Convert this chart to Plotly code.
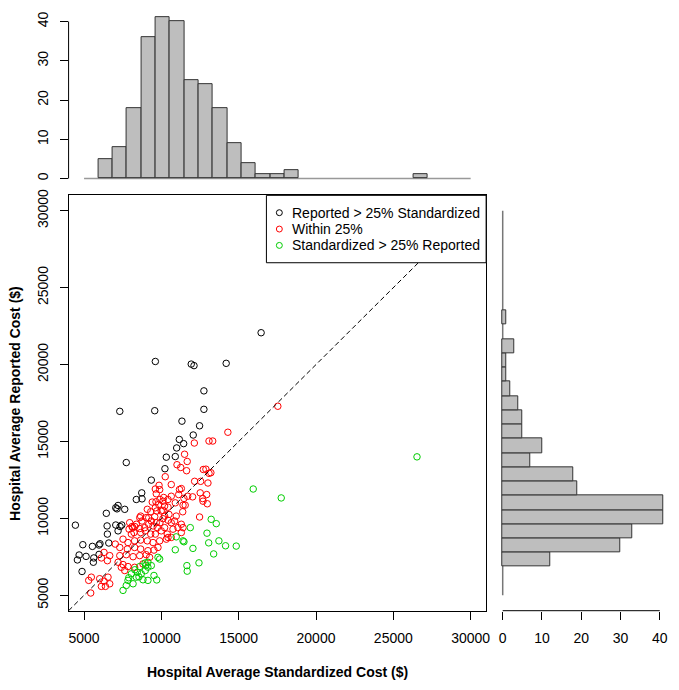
import plotly.graph_objects as go

W, H = 679, 690

# ---------------- data ----------------
black_x = [16450, 9610, 11930, 12110, 14190, 12750, 9570, 12750, 11330, 12470,
           7310, 12060, 11160, 11440, 10990, 7730, 10320, 10900, 10230, 9350,
           8730, 8750, 8380, 7200, 7050, 7630, 7130, 6440, 6490, 7050,
           7440, 7330, 4440, 6510, 6600, 4920, 5540, 5970, 6030, 4680,
           4570, 5130, 5630, 5600, 5970, 4870, 7200]
black_y = [22070, 20200, 20030, 19930, 20080, 18290, 17000, 17090, 16320, 16020,
           16960, 15420, 15130, 14860, 14580, 13630, 13980, 14020, 13230, 12490,
           11660, 11270, 11230, 10840, 10690, 10590, 10620, 10330, 9510, 9570,
           9570, 9470, 9560, 8980, 8400, 8290, 8180, 8270, 8350, 7620,
           7300, 7530, 7430, 7150, 7660, 6550, 9190]

red_x = [17530, 14300, 12130, 13080, 13320, 11500, 11670, 11010, 11250, 11630,
         10250, 9850, 12710, 12880, 13080, 13200, 12150, 12540, 13010,
         11170, 11290, 12510, 10640, 10430, 10900, 11460, 11400, 11540, 12690,
         12970, 12470, 10960, 10860, 10640, 11290, 11400, 11070, 10750, 11290, 10430,
         9610, 9890, 11120, 10150, 9670, 9910, 9650, 9410, 9090, 9700,
         10100, 10430, 11380, 10490, 10100, 9910, 12930, 12670, 11700, 12020,
         8100, 7910, 8150, 8280, 8600, 8920, 8660, 9180, 9350, 9570,
         9670, 8600, 8750,
         10640, 10100, 9830, 10210, 9990, 9610, 9310, 8660, 9020, 10210,
         10430, 7950, 8380, 9180, 9460, 9740, 8230, 8060, 8960, 9310,
         9610, 9990, 10210, 10380, 10640, 7520, 7840, 8270, 8660, 9090,
         9460, 9890, 10320, 7020, 7310, 7800, 8270, 8660, 9130, 9520,
         9780, 6290, 6660, 6120, 6510, 7310, 7730, 8170, 8600, 9020,
         9240, 7200, 7520, 7840, 8270, 8810, 5470, 5300, 6010, 6290,
         6550, 6660, 6120, 6380, 7410, 7630, 5430]
red_y = [17290, 15600, 14900, 15030, 15030, 14170, 13700, 13490, 13310, 13100,
         12710, 12150, 13180, 13200, 12930, 12970, 12410, 12410, 12300,
         11880, 11940, 11660, 11440, 11230, 11010, 11300, 10860, 10860, 11120,
         10950, 10090, 10150, 9830, 9720, 9620, 9400, 9400, 9300, 9080, 8760,
         11910, 11870, 11550, 11360, 11600, 11230, 11080, 11060, 10590, 10480,
         10520, 10730, 10430, 10260, 9980, 9720, 11550, 11290, 11440, 11400,
         9470, 9300, 9400, 9470, 9340, 9400, 9080, 10050, 9830, 10110,
         9720, 10050, 9830,
         12200, 11120, 10910, 10800, 10480, 10690, 10430, 10150, 10050, 10150,
         9880, 9720, 9620, 9620, 9510, 9400, 9080, 8980, 9190, 8980,
         8980, 9190, 9400, 8980, 8760, 8650, 8430, 8540, 8590, 8540,
         8430, 8540, 8650, 8330, 8110, 8010, 8110, 8010, 7900, 7940,
         8110, 7790, 7580, 7430, 7250, 7580, 7640, 7510, 7580, 7640,
         7470, 7150, 7000, 6870, 6820, 7040, 6180, 5970, 6080, 5920,
         6180, 5750, 5580, 5580, 6820, 6610, 5150]

green_x = [26530, 15940, 17750, 14840, 14150, 13220, 13550, 11870, 12950, 10960,
           11400, 11460, 13720, 13060, 10900, 12040, 13380, 12430, 11650, 11670,
           9780, 9890, 8950, 9130, 8600, 8280, 8440, 8060, 8700, 8960,
           9520, 9130, 8810, 7840, 8170, 7730, 7520, 7890, 8380, 9130,
           9350, 9000, 8550, 9700]
green_y = [14000, 11910, 11330, 8200, 8220, 9940, 9660, 9400, 9040, 8800,
           8540, 8480, 8540, 8410, 7960, 8050, 7690, 7110, 6930, 6570,
           7470, 7360, 7100, 7150, 6870, 6660, 6500, 6400, 6400, 6610,
           6290, 5970, 6010, 5970, 5750, 5640, 5320, 6140, 6180, 6830,
           6930, 6950, 6200, 6000]

# histogram of standardized cost (bins of 1000 starting at 4000)
top_bin_start = 4000
top_counts = [5, 8, 18, 36, 41, 40, 25, 24, 18, 9, 4, 1, 1, 2,
              0, 0, 0, 0, 0, 0, 0, 0, 1]
# histogram of reported cost (bins of 1000 starting at 5000)
right_bin_start = 5000
right_counts = [12, 30, 33, 41, 41, 19, 18, 7, 10, 5, 5, 4, 2, 1, 1, 3, 0, 1]
bin_width = 1000

cost_ticks = [5000, 10000, 15000, 20000, 25000, 30000]
cost_tick_labels = ["5000", "10000", "15000", "20000", "25000", "30000"]
count_ticks = [0, 10, 20, 30, 40]
count_tick_labels = ["0", "10", "20", "30", "40"]
series_names = ["Reported > 25% Standardized", "Within 25%", "Standardized > 25% Reported"]
series_colors = ["#000000", "#FF0000", "#00CD00"]
x_title = "Hospital Average Standardized Cost ($)"
y_title = "Hospital Average Reported Cost ($)"

# ---------------- layout helpers (pixel -> paper) ----------------
def PX(p):
    return p / W

def PY(p):
    return 1 - p / H

FONT = "Liberation Sans, Arial, sans-serif"
main_l, main_r, main_t, main_b = 69, 489, 191, 610

fig = go.Figure()

for xs, ys, name, col in zip([black_x, red_x, green_x], [black_y, red_y, green_y],
                             series_names, series_colors):
    fig.add_trace(go.Scatter(
        x=xs, y=ys, mode="markers", name=name, showlegend=False,
        marker=dict(symbol="circle-open", size=6.5, color=col, line=dict(width=1, color=col)),
        xaxis="x", yaxis="y"))

top_centers = [top_bin_start + bin_width * (i + 0.5) for i in range(len(top_counts))]
fig.add_trace(go.Bar(
    x=top_centers, y=[c if c > 0 else None for c in top_counts], width=bin_width,
    marker=dict(color="#BEBEBE", line=dict(color="#333333", width=1)),
    xaxis="x2", yaxis="y2", showlegend=False))

right_centers = [right_bin_start + bin_width * (i + 0.5) for i in range(len(right_counts))]
fig.add_trace(go.Bar(
    y=right_centers, x=[c if c > 0 else None for c in right_counts], width=bin_width,
    orientation="h",
    marker=dict(color="#BEBEBE", line=dict(color="#333333", width=1)),
    xaxis="x3", yaxis="y3", showlegend=False))

tickfont = dict(family=FONT, size=14, color="black")
main_dom_x = [PX(main_l), PX(main_r)]
main_dom_y = [PY(main_b), PY(main_t)]

shapes = []
# dashed identity line
shapes.append(dict(type="line", xref="x", yref="y", x0=4000, y0=4000, x1=31000, y1=31000,
                   line=dict(color="black", width=1, dash="5px,3px"), layer="above"))
# grey baselines of histograms
shapes.append(dict(type="line", xref="x2", yref="y2", x0=3000, x1=30000, y0=0, y1=0,
                   line=dict(color="#999999", width=1.5), layer="below"))
shapes.append(dict(type="line", xref="x3", yref="y3", x0=0, x1=0, y0=3000, y1=30000,
                   line=dict(color="#777777", width=1.5), layer="below"))
# axis segments of the histograms
shapes.append(dict(type="line", xref="paper", yref="y2", x0=PX(main_l), x1=PX(main_l),
                   y0=count_ticks[0], y1=count_ticks[-1], line=dict(color="black", width=1)))
shapes.append(dict(type="line", xref="x3", yref="paper", x0=count_ticks[0], x1=count_ticks[-1],
                   y0=PY(main_b), y1=PY(main_b), line=dict(color="black", width=1)))
# legend box
leg_l, leg_r, leg_t, leg_b = 268, 489, 191, 259
shapes.append(dict(type="rect", xref="paper", yref="paper", x0=PX(leg_l), x1=PX(leg_r),
                   y0=PY(leg_b), y1=PY(leg_t), fillcolor="white",
                   line=dict(color="black", width=1), layer="above"))
annotations = []
row_y = [208.5, 225, 241.5]
for name, col, ry in zip(series_names, series_colors, row_y):
    r = 3.0
    shapes.append(dict(type="circle", xref="paper", yref="paper",
                       x0=PX(281 - r), x1=PX(281 + r), y0=PY(ry + r), y1=PY(ry - r),
                       line=dict(color=col, width=1), layer="above"))
    annotations.append(dict(text=name, xref="paper", yref="paper", x=PX(292), y=PY(ry),
                            xanchor="left", yanchor="middle", showarrow=False,
                            font=dict(family=FONT, size=14, color="black")))

annotations.append(dict(text="<b>" + x_title + "</b>", xref="paper", yref="paper",
                        x=PX((main_l + main_r) / 2), y=PY(672), xanchor="center", yanchor="middle",
                        showarrow=False, font=dict(family=FONT, size=14, color="black")))
annotations.append(dict(text="<b>" + y_title + "</b>", xref="paper", yref="paper",
                        x=PX(15), y=PY((main_t + main_b) / 2), xanchor="center", yanchor="middle",
                        textangle=-90, showarrow=False,
                        font=dict(family=FONT, size=14, color="black")))

fig.update_layout(
    width=W, height=H, margin=dict(l=0, r=0, t=0, b=0),
    paper_bgcolor="white", plot_bgcolor="white", showlegend=False,
    font=dict(family=FONT, size=14, color="black"),
    bargap=0,
    xaxis=dict(domain=main_dom_x, range=[4000, 31000], tickvals=cost_ticks,
               ticktext=cost_tick_labels, ticks="outside",
               ticklen=8, tickcolor="black", showline=True, mirror=True, linecolor="black",
               linewidth=1, showgrid=False, zeroline=False, tickfont=tickfont,
               ticklabelstandoff=7, anchor="y"),
    yaxis=dict(domain=main_dom_y, range=[4000, 31000], tickvals=cost_ticks,
               ticktext=cost_tick_labels, ticks="outside",
               ticklen=8, tickcolor="black", showline=True, mirror=True, linecolor="black",
               linewidth=1, showgrid=False, zeroline=False, tickfont=tickfont, tickangle=-90,
               ticklabelstandoff=6, anchor="x"),
    xaxis2=dict(domain=main_dom_x, range=[1920, 31080], visible=False, anchor="y2"),
    yaxis2=dict(domain=[PY(180.5), PY(5.2)], range=[-1.64, 42.64], tickvals=count_ticks,
                ticktext=count_tick_labels,
                ticks="outside", ticklen=8, tickcolor="black", showline=False, showgrid=False,
                zeroline=False, tickfont=tickfont, tickangle=-90, ticklabelstandoff=6,
                anchor="x2"),
    xaxis3=dict(domain=[PX(499.2), PX(674.1)], range=[-1.64, 42.64], tickvals=count_ticks,
                ticktext=count_tick_labels,
                ticks="outside", ticklen=8, tickcolor="black", showline=False, showgrid=False,
                zeroline=False, tickfont=tickfont, ticklabelstandoff=7, anchor="y3"),
    yaxis3=dict(domain=main_dom_y, range=[1920, 31080], visible=False, anchor="x3"),
    shapes=shapes, annotations=annotations,
)

fig.write_html("out.html", config={"displayModeBar": False},
               post_script="document.body.style.margin='0';document.body.style.overflow='hidden';")
